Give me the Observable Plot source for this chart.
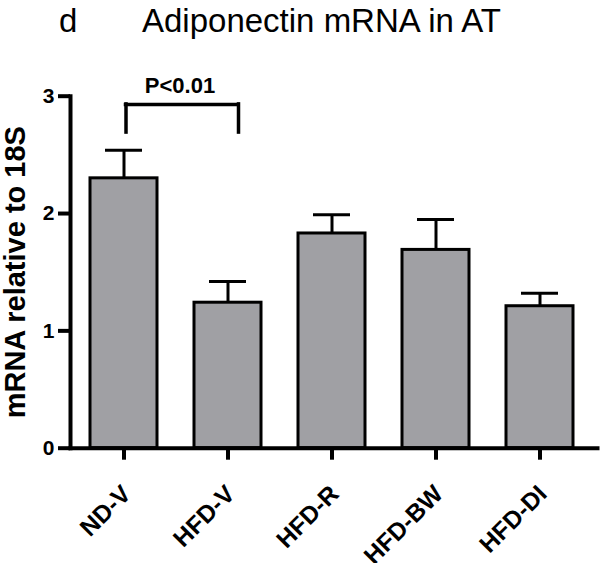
<!DOCTYPE html>
<html><head><meta charset="utf-8">
<script src="https://cdn.jsdelivr.net/npm/d3@7"></script>
<script src="https://cdn.jsdelivr.net/npm/@observablehq/plot@0.6"></script>
<style>
html,body{margin:0;padding:0;background:#fff;}
#wrap{position:relative;width:601px;height:563px;font-family:"Liberation Sans",Arial,sans-serif;color:#000;}
#panel{position:absolute;left:59px;top:2px;font-size:33px;line-height:38px;}
#title{position:absolute;left:142px;top:2px;font-size:33px;line-height:38px;white-space:nowrap;}
</style></head><body>
<div id="wrap"><div id="chart"></div><div id="panel">d</div><div id="title">Adiponectin mRNA in AT</div></div>
<script>
const groups = ["ND-V", "HFD-V", "HFD-R", "HFD-BW", "HFD-DI"];
const means = [2.30, 1.24, 1.83, 1.69, 1.21];
const errors = [0.24, 0.18, 0.16, 0.26, 0.11];
const yTicks = [0, 1, 2, 3];
const yLabel = "mRNA relative to 18S";
const sigPair = ["ND-V", "HFD-V"];
const sigText = "P<0.01";
const sigBarY = 2.93;
const sigLegY = 2.69;

const data = groups.map((g, i) => ({group: g, mean: means[i], hi: means[i] + errors[i]}));
const FONT = "'Liberation Sans', Arial, sans-serif";

const chart = Plot.plot({
  width: 601, height: 563,
  marginLeft: 70, marginRight: 4, marginTop: 95.7, marginBottom: 115.3,
  style: {fontFamily: FONT, color: "#000", background: "#fff", overflow: "visible"},
  x: {domain: groups, paddingInner: 0.36, paddingOuter: 0.1955, align: 0.45, label: null},
  y: {domain: [0, 3], label: null},
  marks: [
    Plot.ruleX(data, {x: "group", y1: "mean", y2: "hi", stroke: "#000", strokeWidth: 3}),
    Plot.tickY(data, {x: "group", y: "hi", stroke: "#000", strokeWidth: 3, inset: 15}),
    Plot.barY(data, {x: "group", y: "mean", fill: "#a0a0a4", stroke: "#000", strokeWidth: 3}),
    Plot.frame({anchor: "left", stroke: "#000", strokeWidth: 4}),
    Plot.frame({anchor: "bottom", stroke: "#000", strokeWidth: 4}),
    Plot.axisY({ticks: yTicks, tickFormat: () => "", tickSize: 12, label: null}),
    Plot.axisX({tickFormat: () => "", tickSize: 12, label: null}),
    Plot.text(yTicks, {y: d => d, text: d => String(d), frameAnchor: "left", dx: -16, textAnchor: "end", lineAnchor: "middle", fontSize: 21, fontWeight: "bold"}),
    Plot.text(groups, {x: d => d, text: d => d, frameAnchor: "bottom", rotate: -45, dx: -4, dy: 35, textAnchor: "end", lineAnchor: "top", fontSize: 24.5, fontWeight: "bold"}),
    Plot.text([yLabel], {text: d => d, frameAnchor: "left", rotate: -90, dx: -55, fontSize: 29, fontWeight: "bold", textAnchor: "middle", lineAnchor: "middle"}),
    Plot.ruleY([sigBarY], {y: d => d, x1: () => sigPair[0], x2: () => sigPair[1], stroke: "#000", strokeWidth: 3.5, insetLeft: 35.5, insetRight: 23, strokeLinecap: "square"}),
    Plot.ruleX([sigPair[0]], {x: d => d, y1: sigLegY, y2: sigBarY, dx: 2, stroke: "#000", strokeWidth: 3.5, strokeLinecap: "square"}),
    Plot.ruleX([sigPair[1]], {x: d => d, y1: sigLegY, y2: sigBarY, dx: 10.5, stroke: "#000", strokeWidth: 3.5, strokeLinecap: "square"}),
    Plot.text([sigText], {text: d => d, x: () => sigPair[0], y: sigBarY, dx: 56, dy: -11, textAnchor: "middle", lineAnchor: "bottom", fontSize: 22, fontWeight: "bold"})
  ]
});
// thicken axis tick strokes
chart.querySelectorAll("g[aria-label]").forEach(g => {
  const lab = g.getAttribute("aria-label") || "";
  if (/axis tick$/.test(lab)) {
    g.setAttribute("stroke-width", "4");
    g.style.strokeWidth = "4px";
    g.querySelectorAll("*").forEach(c => { c.setAttribute("stroke-width", "4"); c.style.strokeWidth = "4px"; });
  }
});
document.getElementById("chart").appendChild(chart);
</script>
</body></html>
